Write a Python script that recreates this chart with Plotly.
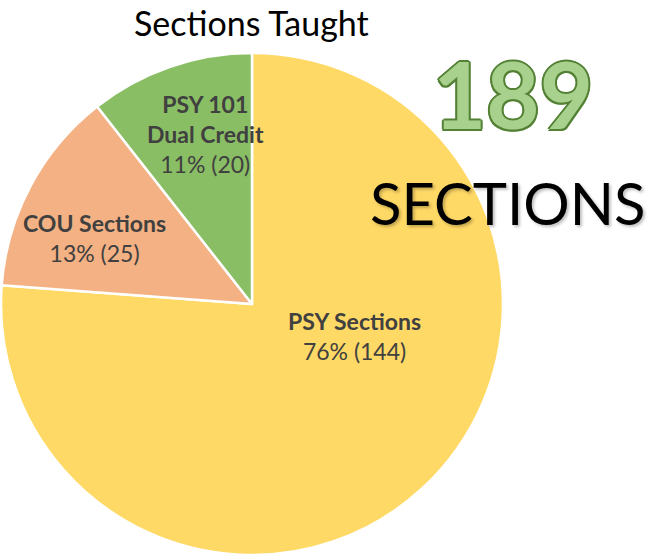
import plotly.graph_objects as go

# Sections taught per category
labels = ['PSY Sections', 'COU Sections', 'PSY 101<br>Dual Credit']
values = [144, 25, 20]
colors = ['#FFD966', '#F4B183', '#89BE64']
total = sum(values)

fig = go.Figure()
fig.add_trace(go.Pie(
    labels=labels,
    values=values,
    sort=False,
    direction='clockwise',
    rotation=0,
    textinfo='none',
    hoverinfo='label+value+percent',
    marker=dict(colors=colors, line=dict(color='white', width=2.5)),
    domain=dict(x=[0, 504 / 650], y=[0, 1 - 53 / 555]),
    showlegend=False,
))

font = 'Lato, Open Sans, sans-serif'
text_color = '#404040'


def slice_label(name, x, y):
    # bold name + percent (count)
    i = labels.index(name)
    pct = round(100 * values[i] / total)
    bold = '<br>'.join(f'<b>{part}</b>' for part in name.split('<br>'))
    return dict(text=f'{bold}<br>{pct}% ({values[i]})', x=x / 650, y=1 - y / 555,
                xref='paper', yref='paper', showarrow=False,
                xanchor='center', yanchor='middle',
                font=dict(family=font, size=23, color=text_color),
                align='center')


def free_text(text, x, y, **font_kw):
    return dict(text=text, x=x / 650, y=1 - y / 555,
                xref='paper', yref='paper', showarrow=False,
                xanchor='center', yanchor='middle',
                font=dict(family=font, **font_kw))


outline = '#548235'
annotations = [
    slice_label('PSY 101<br>Dual Credit', 205, 134),
    slice_label('COU Sections', 94, 238),
    slice_label('PSY Sections', 355, 336),
    free_text('Sections Taught', 252, 22, size=34, color='black'),
    free_text(f'<b>{total}</b>', 513, 93, size=92, color='#A9D18E',
              shadow=f'2px 0 0 {outline}, -2px 0 0 {outline}, 0 2px 0 {outline}, '
                     f'0 -2px 0 {outline}, 1.5px 1.5px 0 {outline}, -1.5px -1.5px 0 {outline}, '
                     f'1.5px -1.5px 0 {outline}, -1.5px 1.5px 0 {outline}'),
    free_text('SECTIONS', 507, 202, size=58, color='black',
              shadow='2px 2px 3px rgba(0,0,0,0.25)'),
]

fig.update_layout(
    width=650, height=555,
    margin=dict(l=0, r=0, t=0, b=0),
    paper_bgcolor='white',
    plot_bgcolor='white',
    annotations=annotations,
)

# drop the default page margin so the figure sits at the top-left corner
fig.write_html('out.html', config={'displayModeBar': False},
               post_script="document.body.style.margin = '0';")
